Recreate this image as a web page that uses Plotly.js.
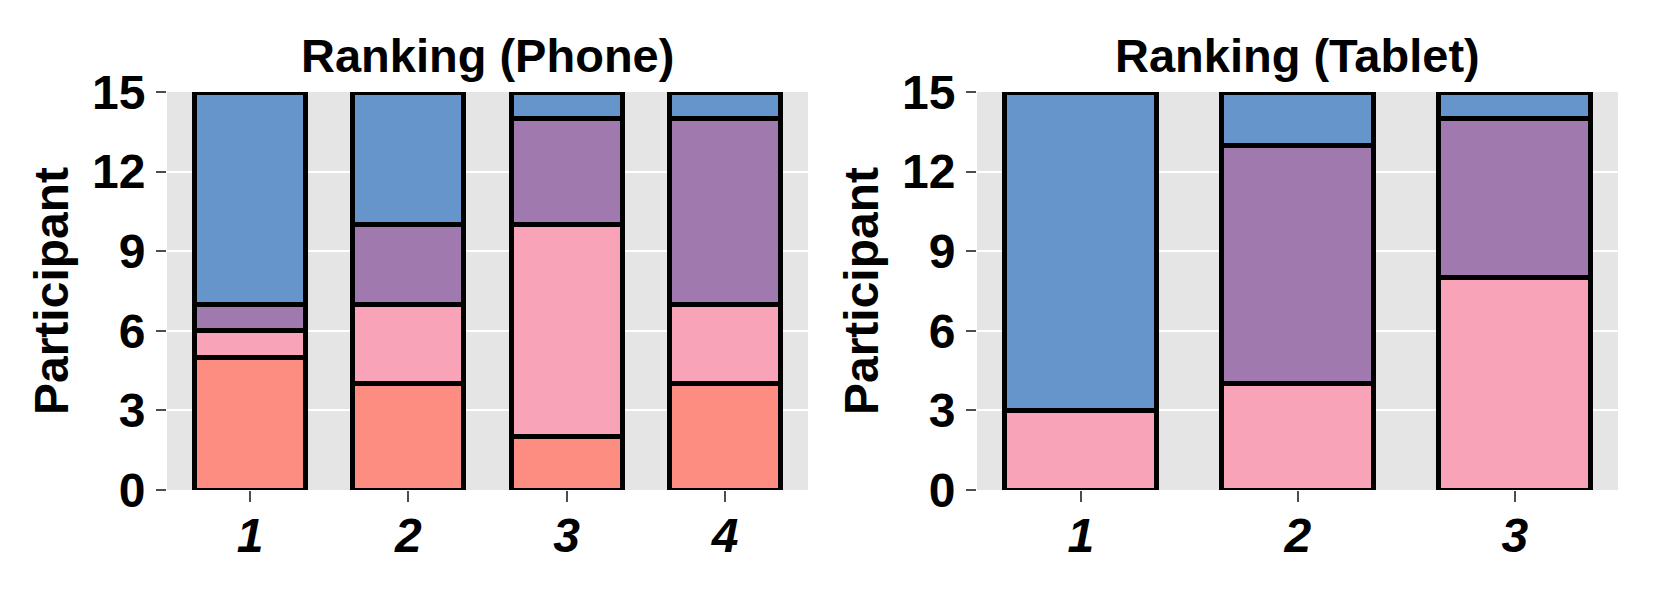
<!DOCTYPE html>
<html>
<head>
<meta charset="utf-8">
<script src="https://cdn.plot.ly/plotly-3.0.1.min.js"></script>
<style>
  html, body { margin: 0; padding: 0; background: #fff; }
  #chart { width: 1661px; height: 596px; }
</style>
</head>
<body>
<div id="chart"></div>
<script>
// ranks on the x axis
const phoneRanks = ['1', '2', '3', '4'];
const tabletRanks = ['1', '2', '3'];

// participant counts per rank, stacked bottom -> top
const seriesNames = ['A', 'B', 'C', 'D'];
const seriesColors = ['#fe8d81', '#f9a3b8', '#a07aaf', '#6695cb'];

const phoneA = [5, 4, 2, 4];
const phoneB = [1, 3, 8, 3];
const phoneC = [1, 3, 4, 7];
const phoneD = [8, 5, 1, 1];

const tabletA = [0, 0, 0];
const tabletB = [3, 4, 8];
const tabletC = [0, 9, 6];
const tabletD = [12, 2, 1];

const yTicks = [0, 3, 6, 9, 12, 15];

const FONT = 'Liberation Sans, Arial, Helvetica, sans-serif';

function makeTraces(cats, series, xa, ya) {
  const traces = [];
  series.forEach((vals, i) => {
    if (vals.every(v => v === 0)) return;
    traces.push({
      type: 'bar',
      x: cats,
      y: vals,
      name: seriesNames[i],
      xaxis: xa,
      yaxis: ya,
      width: 0.7,
      marker: { color: seriesColors[i], line: { color: '#000', width: 5 } },
      hoverinfo: 'x+y+name'
    });
  });
  return traces;
}

const data = [
  ...makeTraces(phoneRanks, [phoneA, phoneB, phoneC, phoneD], 'x', 'y'),
  ...makeTraces(tabletRanks, [tabletA, tabletB, tabletC, tabletD], 'x2', 'y2')
];

const W = 1661, H = 596;
const panelTop = 92, panelBottom = 490;

function xAxis(left, right, n, padL, padR) {
  return {
    domain: [left / W, right / W],
    type: 'category',
    range: [-padL, n - 1 + padR],
    showgrid: false,
    zeroline: false,
    ticks: 'outside',
    ticklen: 11,
    tickwidth: 2,
    tickcolor: '#4d4d4d',
    ticklabelstandoff: -8,
    tickfont: { family: FONT, size: 48, color: '#000', weight: 'bold', style: 'italic' },
    fixedrange: true
  };
}

function yAxis(anchor) {
  return {
    anchor: anchor,
    domain: [1 - panelBottom / H, 1 - panelTop / H],
    range: [0, 15],
    tickvals: yTicks,
    ticktext: yTicks.map(String),
    showgrid: true,
    gridcolor: '#ffffff',
    gridwidth: 2,
    zeroline: false,
    ticks: 'outside',
    ticklen: 10,
    tickwidth: 2,
    tickcolor: '#4d4d4d',
    ticklabelstandoff: 1,
    tickfont: { family: FONT, size: 48, color: '#000', weight: 'bold' },
    title: { text: 'Participant', standoff: 8, font: { family: FONT, size: 48, color: '#000', weight: 'bold' } },
    fixedrange: true
  };
}

const layout = {
  width: W,
  height: H,
  margin: { l: 0, r: 0, t: 0, b: 0 },
  paper_bgcolor: '#ffffff',
  plot_bgcolor: '#e5e5e5',
  barmode: 'stack',
  showlegend: false,
  xaxis: Object.assign(xAxis(167, 808, 4, 0.524, 0.524), { anchor: 'y' }),
  yaxis: yAxis('x'),
  xaxis2: Object.assign(xAxis(977, 1618, 3, 0.479, 0.475), { anchor: 'y2' }),
  yaxis2: yAxis('x2'),
  annotations: [
    { text: 'Ranking (Phone)', x: (167 + 808) / 2 / W, y: 1 - 56 / H },
    { text: 'Ranking (Tablet)', x: (977 + 1618) / 2 / W, y: 1 - 56 / H }
  ].map(a => Object.assign(a, {
    xref: 'paper', yref: 'paper', xanchor: 'center', yanchor: 'middle',
    showarrow: false,
    font: { family: FONT, size: 47, color: '#000', weight: 'bold' }
  }))
};

Plotly.newPlot('chart', data, layout, { displayModeBar: false, staticPlot: true });
</script>
</body>
</html>
